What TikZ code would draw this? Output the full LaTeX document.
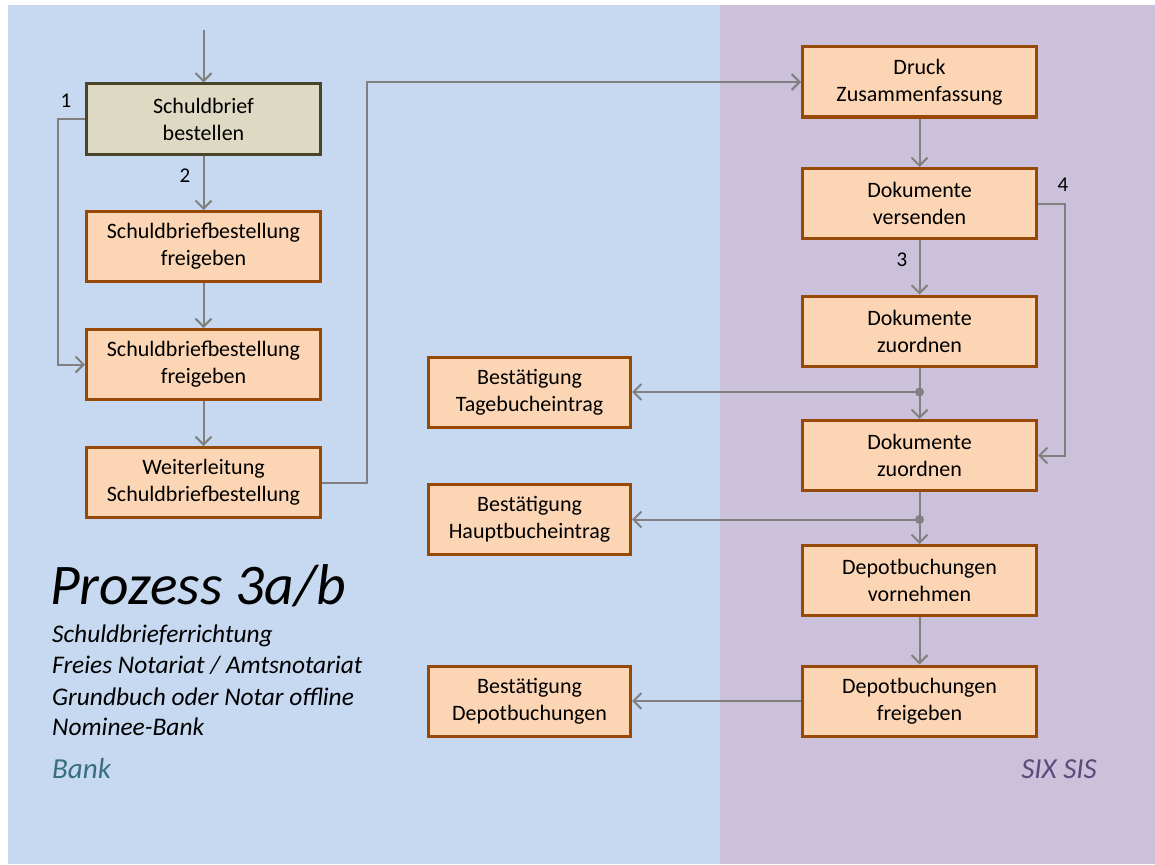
\documentclass[tikz,border=0pt]{standalone}
\usepackage{fontspec}
\setmainfont{Carlito}
\usetikzlibrary{arrows.meta}
\definecolor{bankbg}{HTML}{C6D9F1}
\definecolor{sixbg}{HTML}{CCC1DA}
\definecolor{boxfill}{HTML}{FCD5B5}
\definecolor{boxline}{HTML}{984807}
\definecolor{startfill}{HTML}{DDD9C3}
\definecolor{startline}{HTML}{4A452A}
\definecolor{conn}{HTML}{808080}
\definecolor{banktxt}{HTML}{376F80}
\definecolor{sixtxt}{HTML}{5F497A}
\tikzset{
  procbox/.style={draw=boxline, fill=boxfill, line width=3pt, align=center,
    minimum width=234pt, minimum height=70pt, inner sep=0pt,
    font=\fontsize{22}{27}\selectfont,
    execute at begin node={\rule{0pt}{23pt}}},
  startbox/.style={procbox, draw=startline, fill=startfill},
  confbox/.style={procbox, minimum width=202pt},
  arr/.style={draw=conn, line width=2pt, -{Straight Barb[length=8pt,width=16pt,line width=2pt]}},
  plain/.style={draw=conn, line width=2pt},
  jdot/.style={circle, fill=conn, inner sep=0pt, minimum size=9pt},
  numlbl/.style={font=\fontsize{21}{25}\selectfont, inner sep=0pt},
  sub/.style={anchor=base west, inner sep=0pt, font=\fontsize{25.4}{30}\selectfont\itshape},
  lane/.style={anchor=base west, inner sep=0pt, font=\fontsize{29}{34}\selectfont\itshape}
}
\begin{document}
\begin{tikzpicture}[x=1pt,y=-1pt]
\useasboundingbox (0,0) rectangle (1155,864);
\fill[bankbg] (8,5) rectangle (720,864);
\fill[sixbg] (720,5) rectangle (1155,864);

% left column
\node[startbox] (b1) at (203.5,119) {Schuldbrief\\bestellen};
\node[procbox] (b2) at (203.5,246.5) {Schuldbriefbestellung\\freigeben};
\node[procbox] (b3) at (203.5,364.5) {Schuldbriefbestellung\\freigeben};
\node[procbox] (b4) at (203.5,482.5) {Weiterleitung\\Schuldbriefbestellung};

% right column
\node[procbox] (r1) at (919.5,82) {Druck\\Zusammenfassung};
\node[procbox] (r2) at (919.5,203.5) {Dokumente\\versenden};
\node[procbox] (r3) at (919.5,331) {Dokumente\\zuordnen};
\node[procbox] (r4) at (919.5,455.5) {Dokumente\\zuordnen};
\node[procbox] (r5) at (919.5,580.5) {Depotbuchungen\\vornehmen};
\node[procbox] (r6) at (919.5,701) {Depotbuchungen\\freigeben};

% confirmations
\node[confbox] (c1) at (529.5,392) {Bestätigung\\Tagebucheintrag};
\node[confbox] (c2) at (529.5,519.5) {Bestätigung\\Hauptbucheintrag};
\node[confbox] (c3) at (529.5,701) {Bestätigung\\Depotbuchungen};

% coordinates
\coordinate (start) at (203.5,30);
\coordinate (loopL) at (58,119);
\coordinate (up) at (367,482.5);
\coordinate (loopR) at (1065,203.5);
\node[jdot] (j1) at (919.5,392) {};
\node[jdot] (j2) at (919.5,519.5) {};

% connectors
\draw[arr] (start) -- (b1);
\draw[arr] (b1) -- (b2);
\draw[arr] (b2) -- (b3);
\draw[arr] (b3) -- (b4);
\draw[arr] (b1.west) -- (loopL) |- (b3.west);
\draw[arr] (b4.east) -- (up) |- (r1.west);
\draw[arr] (r1) -- (r2);
\draw[arr] (r2) -- (r3);
\draw[arr] (r2.east) -- (loopR) |- (r4.east);
\draw[plain] (r3.south) -- (j1.center);
\draw[arr] (j1.center) -- (r4.north);
\draw[arr] (j1.center) -- (c1.east);
\draw[plain] (r4.south) -- (j2.center);
\draw[arr] (j2.center) -- (r5.north);
\draw[arr] (j2.center) -- (c2.east);
\draw[arr] (r5) -- (r6);
\draw[arr] (r6) -- (c3);

% numbers
\node[numlbl] (n1) at (66,101) {1};
\node[numlbl] (n2) at (185,176) {2};
\node[numlbl] (n3) at (902,260) {3};
\node[numlbl] (n4) at (1063,185) {4};

% titles
\node[anchor=base west, inner sep=0pt, font=\fontsize{57.5}{62}\selectfont\itshape] (title) at (50,604) {Prozess 3a/b};
\node[sub] (s1) at (52,642) {Schuldbrieferrichtung};
\node[sub] (s2) at (52,673) {Freies Notariat / Amtsnotariat};
\node[sub] (s3) at (52,705) {Grundbuch oder Notar offline};
\node[sub] (s4) at (52,735) {Nominee-Bank};
\node[lane, text=banktxt] (bank) at (52,778) {Bank};
\node[lane, anchor=base east, text=sixtxt] (six) at (1097,778) {SIX SIS};
\end{tikzpicture}
\end{document}
